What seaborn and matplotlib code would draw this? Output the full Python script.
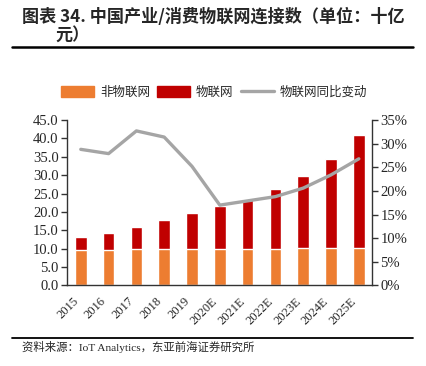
import numpy as np
import matplotlib
matplotlib.use("Agg")
import matplotlib.pyplot as plt
import seaborn as sns
from matplotlib.patches import Patch
from matplotlib.lines import Line2D
from matplotlib.ticker import PercentFormatter

# data (billions of connections)
years = ["2015", "2016", "2017", "2018", "2019", "2020E", "2021E",
         "2022E", "2023E", "2024E", "2025E"]
non_iot = [9.6, 9.7, 9.8, 9.8, 9.9, 9.9, 9.9, 10.0, 10.1, 10.2, 10.2]
iot = [3.6, 4.6, 6.1, 7.9, 9.8, 11.6, 13.6, 16.2, 19.7, 24.1, 30.8]
iot_yoy = [28.8, 27.9, 32.7, 31.4, 25.2, 17.0, 17.9, 18.8, 20.6, 23.4, 26.8]

total = [a + b for a, b in zip(non_iot, iot)]

sns.set_style("white")
cjk = ["Noto Sans CJK SC", "DejaVu Sans"]
serif = "Liberation Serif"

orange = "#ED7D31"
red = "#C00000"
gray = "#A5A5A5"

fig = plt.figure(figsize=(4.26, 3.66), dpi=100)
ax = fig.add_axes([0.157, 0.22, 0.716, 0.452])

# stacked bars: total in red, non-IoT overlaid in orange
sns.barplot(x=years, y=total, color=red, width=0.42, saturation=1, ax=ax)
sns.barplot(x=years, y=non_iot, color=orange, width=0.42, saturation=1, ax=ax)

ax.set_ylim(0, 45)
ax.set_yticks(np.arange(0, 46, 5))
ax.set_yticklabels([f"{v:.1f}" for v in np.arange(0, 46, 5)],
                   fontfamily=serif, fontsize=10.5)
ax.set_xlim(-0.5, 10.47)
ax.set_xticks(range(len(years)))
ax.set_xticklabels(years, rotation=45, fontfamily=serif, fontsize=9,
                   ha="right", rotation_mode="default")
ax.tick_params(axis="x", length=0, pad=7)
ax.tick_params(axis="y", direction="out", length=4, width=1, color="#333333",
               left=True, pad=2)
for s in ["top", "right"]:
    ax.spines[s].set_visible(False)
for s in ["left", "bottom"]:
    ax.spines[s].set_color("#333333")
    ax.spines[s].set_linewidth(1)
ax.set_xlabel("")
ax.set_ylabel("")

ax2 = ax.twinx()
sns.lineplot(x=np.arange(len(years)), y=iot_yoy, color=gray, linewidth=2.4,
             ax=ax2)
ax2.set_ylim(0, 35)
ax2.set_yticks(np.arange(0, 36, 5))
ax2.yaxis.set_major_formatter(PercentFormatter(decimals=0))
for lab in ax2.get_yticklabels():
    lab.set_fontfamily(serif)
    lab.set_fontsize(10.5)
ax2.tick_params(axis="y", direction="out", length=4, width=1, color="#333333",
                right=True, pad=2)
for s in ["top", "left", "bottom"]:
    ax2.spines[s].set_visible(False)
ax2.spines["right"].set_visible(True)
ax2.spines["right"].set_color("#333333")
ax2.spines["right"].set_linewidth(1)
ax2.set_xlim(-0.5, 10.47)

# legend
handles = [Patch(color=orange), Patch(color=red),
           Line2D([0], [0], color=gray, linewidth=2.4)]
labels = ["非物联网", "物联网", "物联网同比变动"]
fig.legend(handles, labels, loc="center left", bbox_to_anchor=(0.117, 0.748),
           ncol=3, frameon=False, prop={"family": cjk, "size": 9},
           handlelength=2.6, handleheight=0.9, columnspacing=0.6,
           handletextpad=0.5)

# title and rules
fig.text(0.052, 0.955, "图表 34. 中国产业/消费物联网连接数（单位：十亿",
         fontfamily=cjk, fontweight="bold", fontsize=12.3, va="center")
fig.text(0.129, 0.905, "元）", fontfamily=cjk, fontweight="bold",
         fontsize=12.3, va="center")
fig.add_artist(Line2D([0.028, 0.97], [0.871, 0.871], color="black",
                      linewidth=1.8, transform=fig.transFigure))
fig.add_artist(Line2D([0.028, 0.97], [0.076, 0.076], color="black",
                      linewidth=1.3, transform=fig.transFigure))
fig.text(0.052, 0.052, "资料来源：IoT Analytics，东亚前海证券研究所",
         fontfamily=["Liberation Serif", "Noto Sans CJK SC"], fontsize=8.2,
         va="center")

fig.savefig("out.png", dpi=100)
